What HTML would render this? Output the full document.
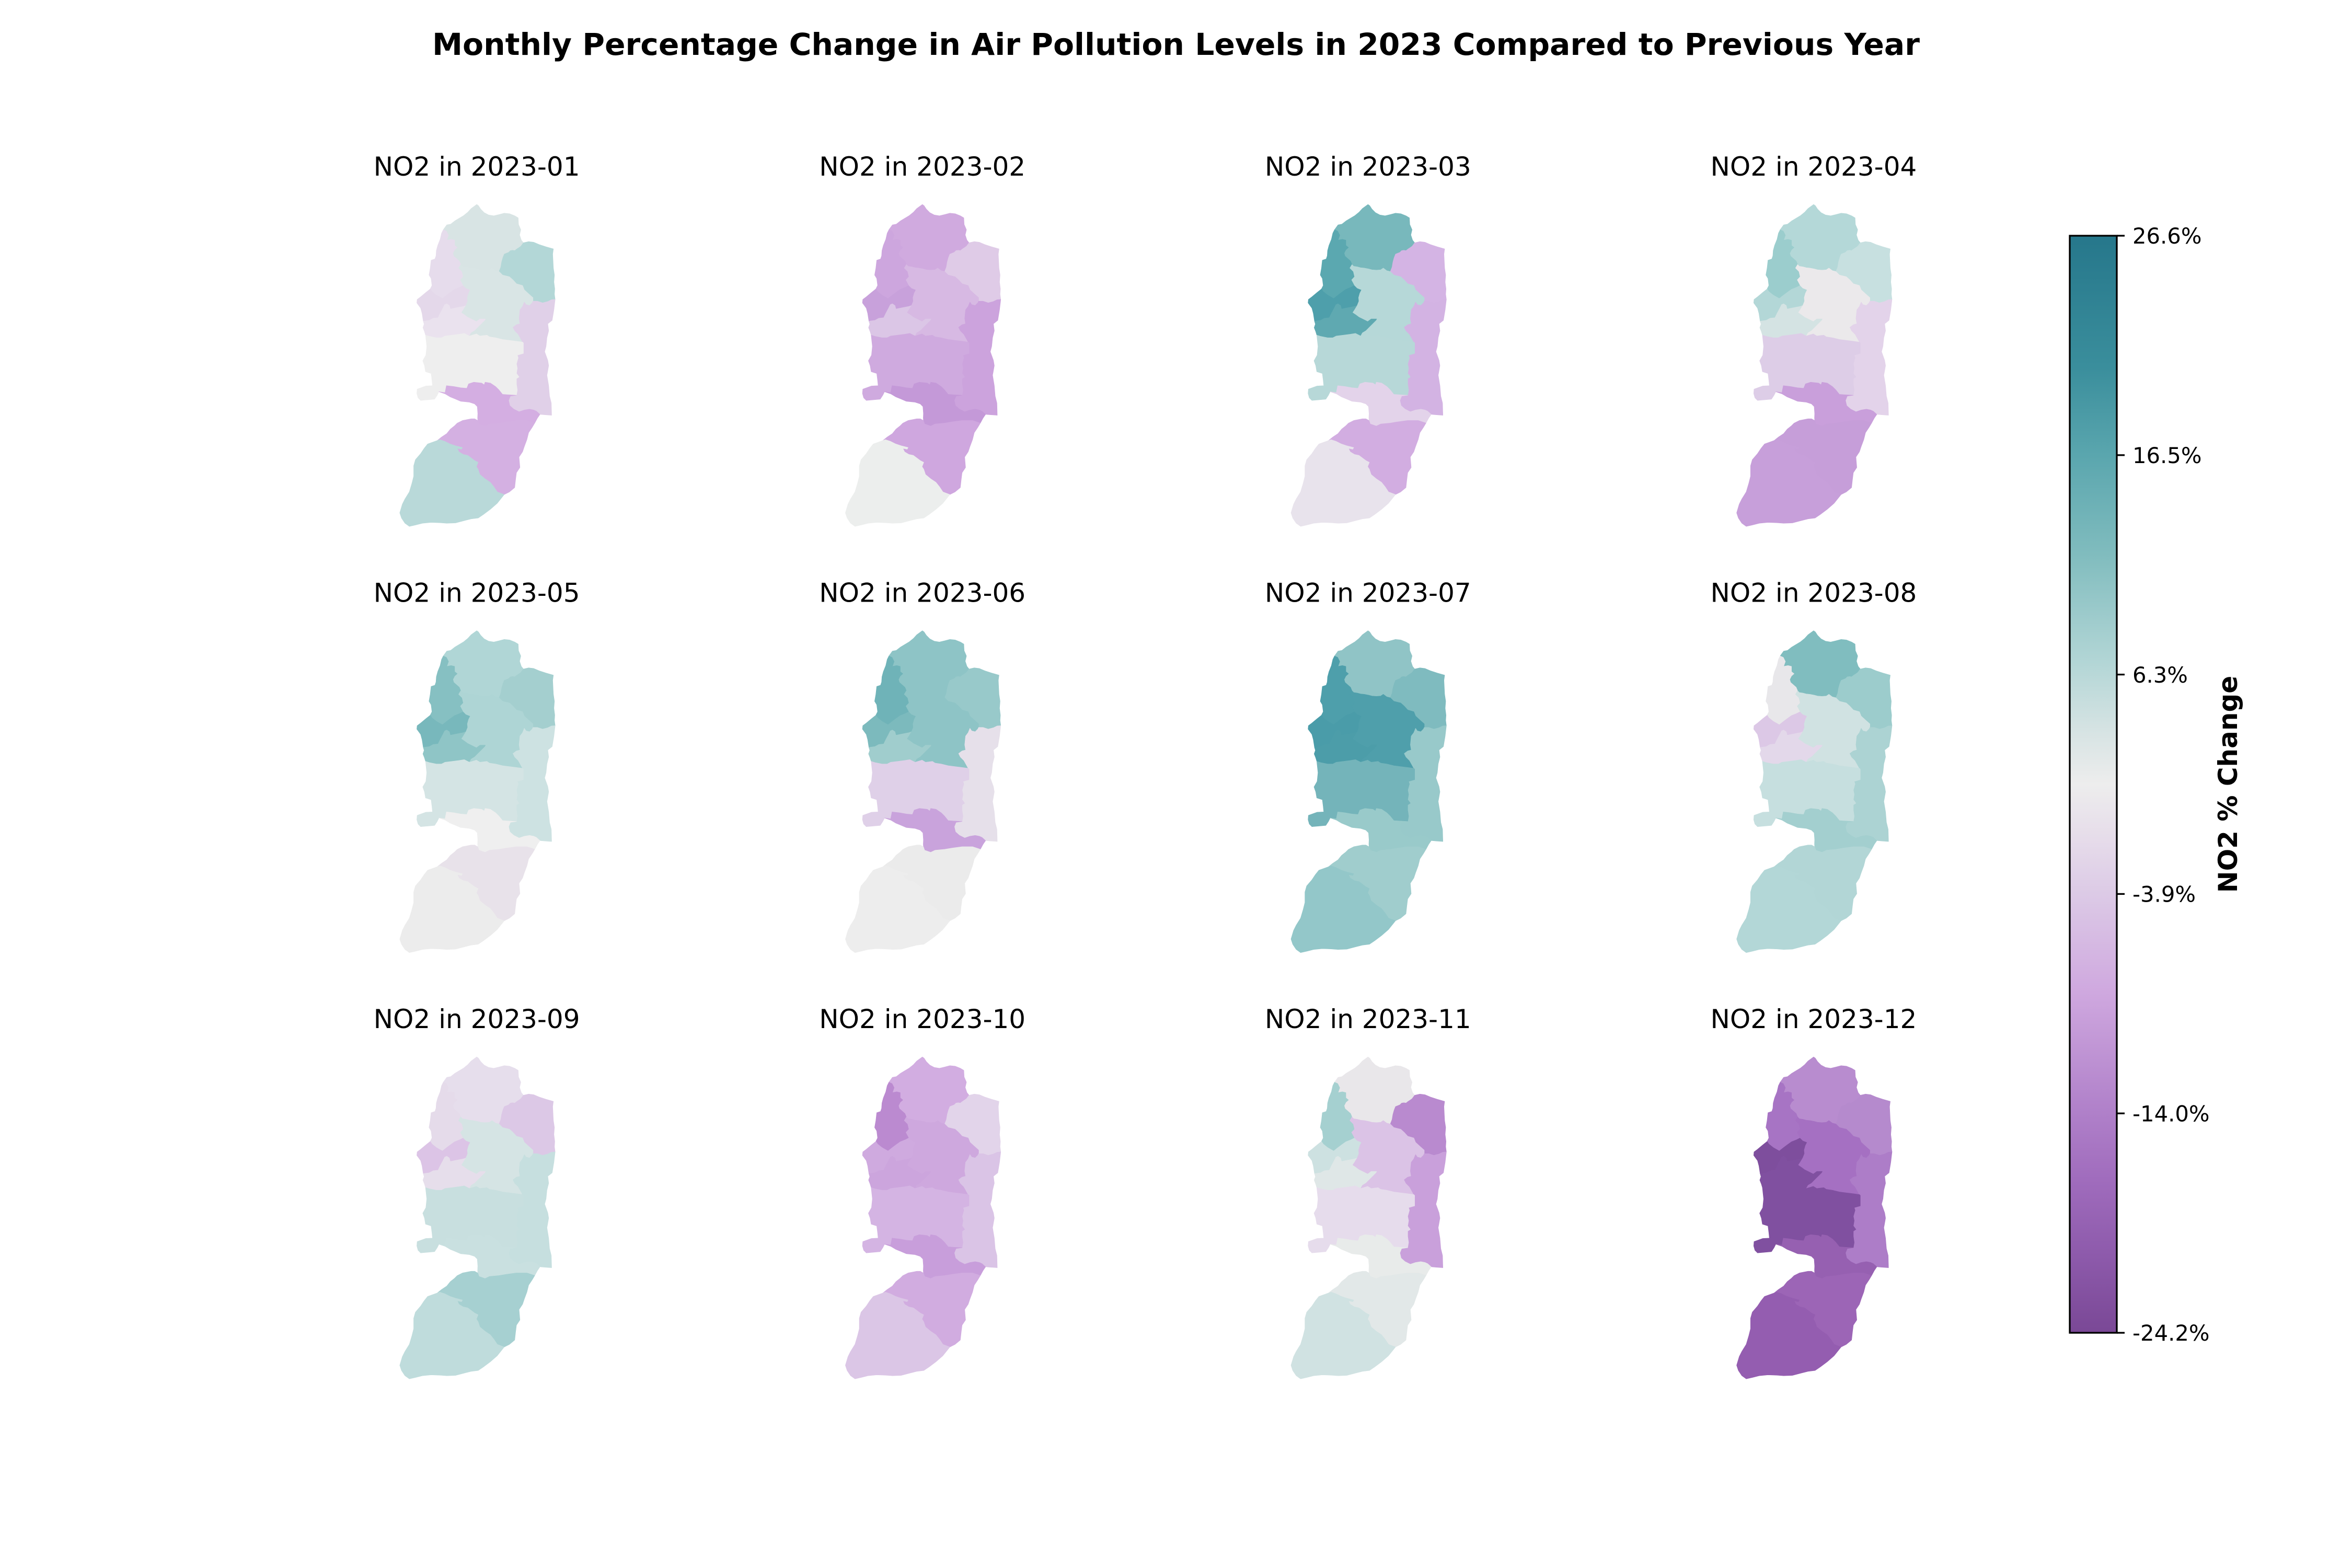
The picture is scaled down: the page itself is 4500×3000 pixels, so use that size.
<!DOCTYPE html>
<html>
<head>
<meta charset="utf-8">
<style>
  html, body { margin: 0; padding: 0; background: #ffffff; }
  body { width: 4500px; height: 3000px; overflow: hidden; }
  svg { display: block; }
  text { font-family: "DejaVu Sans", "Liberation Sans", sans-serif; fill: #000; }
</style>
</head>
<body>
<svg xmlns="http://www.w3.org/2000/svg" width="4500" height="3000" viewBox="0 0 4500 3000">
<defs>
  <linearGradient id="cbar" x1="0" y1="0" x2="0" y2="1">
    <stop offset="0" stop-color="#26778b"/>
    <stop offset="0.12" stop-color="#3a8e9c"/>
    <stop offset="0.20" stop-color="#5aa6ae"/>
    <stop offset="0.29" stop-color="#80bcbe"/>
    <stop offset="0.39" stop-color="#b3d6d6"/>
    <stop offset="0.455" stop-color="#d8e4e4"/>
    <stop offset="0.50" stop-color="#ededed"/>
    <stop offset="0.55" stop-color="#e6dcea"/>
    <stop offset="0.60" stop-color="#dccae6"/>
    <stop offset="0.69" stop-color="#cfa8df"/>
    <stop offset="0.79" stop-color="#b283cb"/>
    <stop offset="0.86" stop-color="#a06cbd"/>
    <stop offset="0.93" stop-color="#8d5aab"/>
    <stop offset="1" stop-color="#7a4896"/>
  </linearGradient>
  <path id="jen" d="M280,180 L300,152 322,148 345,130 365,118 395,100 420,80 440,58 458,45 472,35 482,42 495,62 515,82 540,95 570,100 600,93 630,85 660,88 690,100 710,112 712,150 725,180 718,210 728,240 740,255 725,275 715,282 700,292 690,300 678,298 665,300 655,310 630,320 622,340 615,365 610,395 600,420 580,415 560,400 545,410 520,412 495,410 475,405 450,400 430,398 410,393 390,390 380,380 372,360 355,345 340,332 335,315 345,295 360,282 345,270 345,240 325,235 300,240 310,212 298,188 Z"/>
  <path id="tub" d="M740,255 L770,248 800,252 830,265 870,278 912,290 908,320 910,360 912,400 918,440 915,480 920,520 918,550 922,580 900,582 880,592 850,600 820,590 795,590 795,570 770,548 745,525 735,500 700,490 680,468 660,450 640,445 620,440 600,420 610,395 615,365 622,340 630,320 655,310 665,300 678,298 690,300 700,292 715,282 725,275 Z"/>
  <path id="tul" d="M280,180 L270,200 262,235 248,270 240,300 238,330 232,348 210,355 205,400 198,440 210,460 215,500 205,520 215,535 240,555 275,575 300,555 320,540 345,522 375,510 395,500 390,490 378,468 395,450 388,420 368,400 380,380 372,360 355,345 340,332 335,315 345,295 360,282 345,270 345,240 325,235 300,240 310,212 298,188 Z"/>
  <path id="qal" d="M205,520 L180,540 150,565 130,580 128,600 150,630 158,660 165,705 200,700 222,688 250,685 262,660 278,630 288,610 300,605 315,615 320,635 345,630 370,625 395,620 410,615 420,590 418,570 425,545 435,525 410,515 395,500 375,510 345,522 320,540 300,555 275,575 240,555 215,535 Z"/>
  <path id="sal" d="M165,705 L170,722 163,742 172,765 178,785 200,792 240,800 270,800 290,790 330,785 370,780 400,775 430,790 440,772 460,760 480,740 500,720 520,700 525,690 490,690 470,705 440,690 420,680 400,665 385,655 395,640 410,615 395,620 370,625 345,630 320,635 315,615 300,605 288,610 278,630 262,660 250,685 222,688 200,700 Z"/>
  <path id="nab" d="M380,380 L368,400 388,420 395,450 378,468 390,490 395,500 410,515 435,525 425,545 418,570 420,590 410,615 395,640 385,655 400,665 420,680 440,690 470,705 490,690 525,690 520,700 500,720 480,740 460,760 440,772 430,790 470,778 490,790 530,785 545,795 580,800 620,810 660,815 700,820 735,825 710,780 690,760 680,740 700,725 720,720 715,690 720,640 735,620 745,595 755,610 775,615 790,600 795,590 795,570 770,548 745,525 735,500 700,490 680,468 660,450 640,445 620,440 600,420 580,415 560,400 545,410 520,412 495,410 475,405 450,400 430,398 410,393 390,390 Z"/>
  <path id="jer" d="M922,580 L915,640 905,700 880,720 885,760 875,800 870,850 862,880 880,930 885,960 878,1000 875,1015 885,1075 890,1135 900,1175 902,1245 860,1242 835,1240 815,1222 800,1215 775,1210 745,1215 715,1225 685,1210 662,1190 655,1160 665,1135 700,1130 705,1100 700,1065 700,1035 715,1025 700,1005 705,975 700,950 710,915 705,900 740,890 740,830 735,825 710,780 690,760 680,740 700,725 720,720 715,690 720,640 735,620 745,595 755,610 775,615 790,600 795,590 820,590 850,600 880,592 900,582 Z"/>
  <path id="ram" d="M178,785 L185,850 180,900 162,932 172,960 178,995 210,1005 215,1045 218,1075 180,1077 130,1095 128,1120 135,1145 150,1160 185,1157 230,1153 245,1130 255,1110 290,1115 298,1075 340,1080 380,1087 415,1090 425,1065 455,1055 500,1060 515,1070 520,1055 550,1060 580,1080 600,1100 620,1125 650,1127 700,1130 705,1100 700,1065 700,1035 715,1025 700,1005 705,975 700,950 710,915 705,900 740,890 740,830 735,825 700,820 660,815 620,810 580,800 545,795 530,785 490,790 470,778 430,790 400,775 370,780 330,785 290,790 270,800 240,800 200,792 Z"/>
  <path id="jeru" d="M255,1110 L290,1122 320,1140 345,1150 380,1165 430,1170 460,1180 475,1195 478,1235 477,1260 478,1275 485,1295 520,1307 545,1295 600,1290 640,1283 700,1275 760,1275 785,1283 805,1290 820,1262 835,1240 815,1222 800,1215 775,1210 745,1215 715,1225 685,1210 662,1190 655,1160 665,1135 700,1130 650,1127 620,1125 600,1100 580,1080 550,1060 520,1055 515,1070 500,1060 455,1055 425,1065 415,1090 380,1087 340,1080 298,1075 290,1115 Z"/>
  <path id="beth" d="M478,1275 L460,1265 440,1265 415,1270 390,1275 360,1290 345,1305 320,1325 300,1350 270,1370 245,1390 260,1385 290,1395 320,1410 350,1420 390,1430 385,1440 360,1435 370,1455 395,1470 420,1475 440,1490 460,1505 480,1515 470,1540 480,1555 490,1585 520,1610 550,1630 570,1655 590,1685 630,1700 660,1685 690,1660 695,1615 700,1575 720,1545 715,1485 735,1455 745,1425 760,1385 770,1345 790,1315 805,1290 785,1283 760,1275 700,1275 640,1283 600,1290 545,1295 520,1307 485,1295 Z"/>
  <path id="heb" d="M245,1390 L190,1410 170,1435 150,1465 120,1500 110,1535 110,1595 100,1635 85,1685 60,1725 45,1755 30,1805 40,1835 60,1865 85,1883 120,1875 160,1865 210,1860 260,1862 300,1865 350,1863 400,1850 440,1840 480,1835 510,1815 550,1785 590,1750 630,1700 590,1685 570,1655 550,1630 520,1610 490,1585 480,1555 470,1540 480,1515 460,1505 440,1490 420,1475 395,1470 370,1455 360,1435 385,1440 390,1430 350,1420 320,1410 290,1395 260,1385 Z"/>
</defs>

<!-- Suptitle -->
<text x="2250" y="105" text-anchor="middle" font-size="58.3" font-weight="bold">Monthly Percentage Change in Air Pollution Levels in 2023 Compared to Previous Year</text>

<!-- Subplot titles -->
<g font-size="50" text-anchor="middle">
  <text x="912.1" y="336">NO2 in 2023-01</text>
  <text x="1764.7" y="336">NO2 in 2023-02</text>
  <text x="2617.3" y="336">NO2 in 2023-03</text>
  <text x="3469.9" y="336">NO2 in 2023-04</text>
  <text x="912.1" y="1151.5">NO2 in 2023-05</text>
  <text x="1764.7" y="1151.5">NO2 in 2023-06</text>
  <text x="2617.3" y="1151.5">NO2 in 2023-07</text>
  <text x="3469.9" y="1151.5">NO2 in 2023-08</text>
  <text x="912.1" y="1967">NO2 in 2023-09</text>
  <text x="1764.7" y="1967">NO2 in 2023-10</text>
  <text x="2617.3" y="1967">NO2 in 2023-11</text>
  <text x="3469.9" y="1967">NO2 in 2023-12</text>
</g>

<g stroke-width="2" stroke-linejoin="round">
<!-- M1 -->
<g transform="translate(754.8,379.5) scale(0.333333)">
  <use href="#jen" fill="#d8e4e4" stroke="#d8e4e4"/>
  <use href="#tub" fill="#b3d7d7" stroke="#b3d7d7"/>
  <use href="#tul" fill="#e6dcec" stroke="#e6dcec"/>
  <use href="#qal" fill="#e4d8ea" stroke="#e4d8ea"/>
  <use href="#sal" fill="#eae2ee" stroke="#eae2ee"/>
  <use href="#nab" fill="#d9e5e5" stroke="#d9e5e5"/>
  <use href="#jer" fill="#e0d0e8" stroke="#e0d0e8"/>
  <use href="#ram" fill="#eeeeee" stroke="#eeeeee"/>
  <use href="#jeru" fill="#d4aee2" stroke="#d4aee2"/>
  <use href="#beth" fill="#d4b0e2" stroke="#d4b0e2"/>
  <use href="#heb" fill="#b9d9d9" stroke="#b9d9d9"/>
</g>
<!-- M2 -->
<g transform="translate(1607.4,379.5) scale(0.333333)">
  <use href="#jen" fill="#d0aadf" stroke="#d0aadf"/>
  <use href="#tub" fill="#dfcbe7" stroke="#dfcbe7"/>
  <use href="#tul" fill="#cda6de" stroke="#cda6de"/>
  <use href="#qal" fill="#c8a1db" stroke="#c8a1db"/>
  <use href="#sal" fill="#dbc6e6" stroke="#dbc6e6"/>
  <use href="#nab" fill="#d7b9e3" stroke="#d7b9e3"/>
  <use href="#jer" fill="#cca3dd" stroke="#cca3dd"/>
  <use href="#ram" fill="#cfaadf" stroke="#cfaadf"/>
  <use href="#jeru" fill="#c499d8" stroke="#c499d8"/>
  <use href="#beth" fill="#cfa7df" stroke="#cfa7df"/>
  <use href="#heb" fill="#eceeed" stroke="#eceeed"/>
</g>
<!-- M3 -->
<g transform="translate(2460,379.5) scale(0.333333)">
  <use href="#jen" fill="#78b8bc" stroke="#78b8bc"/>
  <use href="#tub" fill="#d4b4e4" stroke="#d4b4e4"/>
  <use href="#tul" fill="#5ba8b0" stroke="#5ba8b0"/>
  <use href="#qal" fill="#4e9fab" stroke="#4e9fab"/>
  <use href="#sal" fill="#5fa9b1" stroke="#5fa9b1"/>
  <use href="#nab" fill="#b6d8d8" stroke="#b6d8d8"/>
  <use href="#jer" fill="#d3b3e3" stroke="#d3b3e3"/>
  <use href="#ram" fill="#b7d8d8" stroke="#b7d8d8"/>
  <use href="#jeru" fill="#e3d3ea" stroke="#e3d3ea"/>
  <use href="#beth" fill="#d2ade1" stroke="#d2ade1"/>
  <use href="#heb" fill="#e8e3ec" stroke="#e8e3ec"/>
</g>
<!-- M4 -->
<g transform="translate(3312.6,379.5) scale(0.333333)">
  <use href="#jen" fill="#b4d8d8" stroke="#b4d8d8"/>
  <use href="#tub" fill="#c7e0e0" stroke="#c7e0e0"/>
  <use href="#tul" fill="#9bcdcd" stroke="#9bcdcd"/>
  <use href="#qal" fill="#b3d7d7" stroke="#b3d7d7"/>
  <use href="#sal" fill="#d4e3e3" stroke="#d4e3e3"/>
  <use href="#nab" fill="#ebe9eb" stroke="#ebe9eb"/>
  <use href="#jer" fill="#e3d3ea" stroke="#e3d3ea"/>
  <use href="#ram" fill="#ddcde7" stroke="#ddcde7"/>
  <use href="#jeru" fill="#c99fdb" stroke="#c99fdb"/>
  <use href="#beth" fill="#c69ed9" stroke="#c69ed9"/>
  <use href="#heb" fill="#c79fda" stroke="#c79fda"/>
</g>
<!-- M5 -->
<g transform="translate(754.8,1195) scale(0.333333)">
  <use href="#jen" fill="#b0d6d6" stroke="#b0d6d6"/>
  <use href="#tub" fill="#a4cfcf" stroke="#a4cfcf"/>
  <use href="#tul" fill="#86c0c2" stroke="#86c0c2"/>
  <use href="#qal" fill="#78b8bc" stroke="#78b8bc"/>
  <use href="#sal" fill="#8fc5c6" stroke="#8fc5c6"/>
  <use href="#nab" fill="#aed5d5" stroke="#aed5d5"/>
  <use href="#jer" fill="#cde2e2" stroke="#cde2e2"/>
  <use href="#ram" fill="#d4e4e4" stroke="#d4e4e4"/>
  <use href="#jeru" fill="#efefef" stroke="#efefef"/>
  <use href="#beth" fill="#e8e2ea" stroke="#e8e2ea"/>
  <use href="#heb" fill="#ececec" stroke="#ececec"/>
</g>
<!-- M6 -->
<g transform="translate(1607.4,1195) scale(0.333333)">
  <use href="#jen" fill="#8ec4c6" stroke="#8ec4c6"/>
  <use href="#tub" fill="#98c9ca" stroke="#98c9ca"/>
  <use href="#tul" fill="#6fb3b8" stroke="#6fb3b8"/>
  <use href="#qal" fill="#7cbabd" stroke="#7cbabd"/>
  <use href="#sal" fill="#a0cdcd" stroke="#a0cdcd"/>
  <use href="#nab" fill="#8ec4c6" stroke="#8ec4c6"/>
  <use href="#jer" fill="#e6e0ea" stroke="#e6e0ea"/>
  <use href="#ram" fill="#dfd0e8" stroke="#dfd0e8"/>
  <use href="#jeru" fill="#c9a3dc" stroke="#c9a3dc"/>
  <use href="#beth" fill="#ebebeb" stroke="#ebebeb"/>
  <use href="#heb" fill="#ededed" stroke="#ededed"/>
</g>
<!-- M7 -->
<g transform="translate(2460,1195) scale(0.333333)">
  <use href="#jen" fill="#90c4c6" stroke="#90c4c6"/>
  <use href="#tub" fill="#7fbbbf" stroke="#7fbbbf"/>
  <use href="#tul" fill="#4e9fab" stroke="#4e9fab"/>
  <use href="#qal" fill="#4a9ca9" stroke="#4a9ca9"/>
  <use href="#sal" fill="#4c9da9" stroke="#4c9da9"/>
  <use href="#nab" fill="#4f9fab" stroke="#4f9fab"/>
  <use href="#jer" fill="#98c9ca" stroke="#98c9ca"/>
  <use href="#ram" fill="#74b4ba" stroke="#74b4ba"/>
  <use href="#jeru" fill="#99caca" stroke="#99caca"/>
  <use href="#beth" fill="#a0cdcd" stroke="#a0cdcd"/>
  <use href="#heb" fill="#93c7c9" stroke="#93c7c9"/>
</g>
<!-- M8 -->
<g transform="translate(3312.6,1195) scale(0.333333)">
  <use href="#jen" fill="#80bdbf" stroke="#80bdbf"/>
  <use href="#tub" fill="#9ccccc" stroke="#9ccccc"/>
  <use href="#tul" fill="#e8e7ea" stroke="#e8e7ea"/>
  <use href="#qal" fill="#dcc8e6" stroke="#dcc8e6"/>
  <use href="#sal" fill="#e3d8ea" stroke="#e3d8ea"/>
  <use href="#nab" fill="#d0e2e2" stroke="#d0e2e2"/>
  <use href="#jer" fill="#acd3d3" stroke="#acd3d3"/>
  <use href="#ram" fill="#c6dfdf" stroke="#c6dfdf"/>
  <use href="#jeru" fill="#a3cfcf" stroke="#a3cfcf"/>
  <use href="#beth" fill="#b2d6d6" stroke="#b2d6d6"/>
  <use href="#heb" fill="#b3d7d7" stroke="#b3d7d7"/>
</g>
<!-- M9 -->
<g transform="translate(754.8,2010.5) scale(0.333333)">
  <use href="#jen" fill="#e6deec" stroke="#e6deec"/>
  <use href="#tub" fill="#dcc8e6" stroke="#dcc8e6"/>
  <use href="#tul" fill="#e5dbea" stroke="#e5dbea"/>
  <use href="#qal" fill="#dcc4e6" stroke="#dcc4e6"/>
  <use href="#sal" fill="#e6deeb" stroke="#e6deeb"/>
  <use href="#nab" fill="#d5e4e4" stroke="#d5e4e4"/>
  <use href="#jer" fill="#c6dfdf" stroke="#c6dfdf"/>
  <use href="#ram" fill="#c8dfdf" stroke="#c8dfdf"/>
  <use href="#jeru" fill="#c9e0e0" stroke="#c9e0e0"/>
  <use href="#beth" fill="#a6d0d1" stroke="#a6d0d1"/>
  <use href="#heb" fill="#bfdcdc" stroke="#bfdcdc"/>
</g>
<!-- M10 -->
<g transform="translate(1607.4,2010.5) scale(0.333333)">
  <use href="#jen" fill="#d2ade1" stroke="#d2ade1"/>
  <use href="#tub" fill="#e2d4ea" stroke="#e2d4ea"/>
  <use href="#tul" fill="#bb8ad0" stroke="#bb8ad0"/>
  <use href="#qal" fill="#cfaadf" stroke="#cfaadf"/>
  <use href="#sal" fill="#cca5dd" stroke="#cca5dd"/>
  <use href="#nab" fill="#cea8de" stroke="#cea8de"/>
  <use href="#jer" fill="#dac4e6" stroke="#dac4e6"/>
  <use href="#ram" fill="#d4b4e3" stroke="#d4b4e3"/>
  <use href="#jeru" fill="#c89edb" stroke="#c89edb"/>
  <use href="#beth" fill="#d1ace0" stroke="#d1ace0"/>
  <use href="#heb" fill="#dbc6e6" stroke="#dbc6e6"/>
</g>
<!-- M11 -->
<g transform="translate(2460,2010.5) scale(0.333333)">
  <use href="#jen" fill="#e9e7ea" stroke="#e9e7ea"/>
  <use href="#tub" fill="#b98acf" stroke="#b98acf"/>
  <use href="#tul" fill="#a5d0d0" stroke="#a5d0d0"/>
  <use href="#qal" fill="#cde1e1" stroke="#cde1e1"/>
  <use href="#sal" fill="#dfe7e7" stroke="#dfe7e7"/>
  <use href="#nab" fill="#dbc3e6" stroke="#dbc3e6"/>
  <use href="#jer" fill="#c9a0db" stroke="#c9a0db"/>
  <use href="#ram" fill="#e6dcec" stroke="#e6dcec"/>
  <use href="#jeru" fill="#e8ebea" stroke="#e8ebea"/>
  <use href="#beth" fill="#e2e8e8" stroke="#e2e8e8"/>
  <use href="#heb" fill="#d0e2e2" stroke="#d0e2e2"/>
</g>
<!-- M12 -->
<g transform="translate(3312.6,2010.5) scale(0.333333)">
  <use href="#jen" fill="#b88ccf" stroke="#b88ccf"/>
  <use href="#tub" fill="#b58acd" stroke="#b58acd"/>
  <use href="#tul" fill="#a774c4" stroke="#a774c4"/>
  <use href="#qal" fill="#7e4e9d" stroke="#7e4e9d"/>
  <use href="#sal" fill="#8050a0" stroke="#8050a0"/>
  <use href="#nab" fill="#a570c2" stroke="#a570c2"/>
  <use href="#jer" fill="#ad7dc8" stroke="#ad7dc8"/>
  <use href="#ram" fill="#8050a0" stroke="#8050a0"/>
  <use href="#jeru" fill="#9660b1" stroke="#9660b1"/>
  <use href="#beth" fill="#9c65b6" stroke="#9c65b6"/>
  <use href="#heb" fill="#945db0" stroke="#945db0"/>
</g>
</g>

<!-- Colorbar -->
<rect x="3960" y="451" width="90" height="2099" fill="url(#cbar)" stroke="#000" stroke-width="3.3"/>
<g stroke="#000" stroke-width="3.3">
  <line x1="4050" y1="451" x2="4065" y2="451"/>
  <line x1="4050" y1="870.8" x2="4065" y2="870.8"/>
  <line x1="4050" y1="1290.6" x2="4065" y2="1290.6"/>
  <line x1="4050" y1="1710.4" x2="4065" y2="1710.4"/>
  <line x1="4050" y1="2130.2" x2="4065" y2="2130.2"/>
  <line x1="4050" y1="2550" x2="4065" y2="2550"/>
</g>
<g font-size="41.7">
  <text x="4080" y="466.2">26.6%</text>
  <text x="4080" y="886">16.5%</text>
  <text x="4080" y="1305.8">6.3%</text>
  <text x="4080" y="1725.6">-3.9%</text>
  <text x="4080" y="2145.4">-14.0%</text>
  <text x="4080" y="2565.2">-24.2%</text>
</g>
<text transform="translate(4280,1500.5) rotate(-90)" text-anchor="middle" font-size="50" font-weight="bold">NO2 % Change</text>
</svg>
</body>
</html>
